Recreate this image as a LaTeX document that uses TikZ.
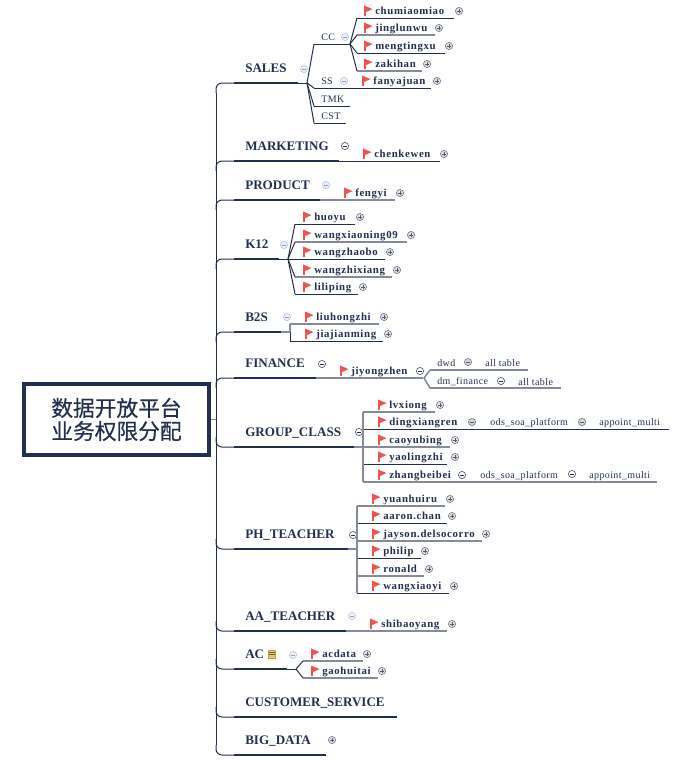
\documentclass[tikz,border=0pt]{standalone}
\usepackage{fontspec}
\setmainfont{Liberation Serif}
\newfontfamily\spacedserif[LetterSpace=6]{Liberation Serif}
\newfontfamily\smallserif[LetterSpace=4]{Liberation Serif}
\newfontfamily\cjkfont[FakeBold=0.5]{Noto Sans CJK SC}
\usepackage{tikz}
\usetikzlibrary{calc}
\definecolor{mapnavy}{HTML}{22304F}
\definecolor{mapgrey}{HTML}{858B98}
\definecolor{flagred}{HTML}{F0524F}
\definecolor{noteyellow}{HTML}{E6C765}
\definecolor{softblue}{HTML}{EDF2FA}
\definecolor{softline}{HTML}{B5C6E2}
\tikzset{
  darkline/.style={mapnavy, line width=0.75pt},
  greyline/.style={mapgrey, line width=1.2pt},
  topicline/.style={mapnavy, line width=2.1pt},
  trunkline/.style={mapnavy, line width=0.75pt, rounded corners=4.5pt},
  rootbox/.style={draw=mapnavy, line width=3pt, minimum width=138.8pt, minimum height=53.2pt, align=center, text=mapnavy, font=\cjkfont\fontsize{16.3}{17.3}\selectfont},
  topictext/.style={anchor=base west, inner sep=0pt, text=mapnavy, font=\bfseries\fontsize{9.8}{11}\selectfont},
  leaftext/.style={anchor=base west, inner sep=0pt, text=mapnavy, font=\spacedserif\bfseries\fontsize{8.1}{9}\selectfont},
  smalltext/.style={anchor=base west, inner sep=0pt, text=mapnavy, font=\smallserif\fontsize{7.5}{9}\selectfont},
  iconbase/.style={circle, line width=0.5pt, minimum size=5.4pt, inner sep=0pt},
  minussign/.style={path picture={\draw[#1, line width=0.55pt] ([xshift=1.2pt]path picture bounding box.west) -- ([xshift=-1.2pt]path picture bounding box.east);}},
  minuslight/.style={iconbase, draw=softline, fill=softblue, minussign=softline!80!black},
  minusdark/.style={iconbase, draw=mapnavy!80, fill=white, minussign=mapnavy},
  minusgrey/.style={iconbase, draw=mapgrey!90!black, fill=mapgrey!35, minussign=mapnavy!80},
  plusmark/.style={iconbase, draw=mapgrey!90!black, fill=mapgrey!25,
    path picture={\draw[mapnavy!80, line width=0.45pt]
      ([xshift=1.3pt]path picture bounding box.west) -- ([xshift=-1.3pt]path picture bounding box.east)
      ([yshift=1.3pt]path picture bounding box.south) -- ([yshift=-1.3pt]path picture bounding box.north);}},
  notemark/.style={draw=noteyellow!80!black, fill=noteyellow, line width=0.4pt, minimum width=5.2pt, minimum height=6.2pt, inner sep=0pt},
  redflag/.pic={
    \fill[flagred] (0,0) rectangle (2,10.5);
    \fill[flagred] (0,0) -- (8.5,3.6) -- (0,7.5) -- cycle;
  }
}
\begin{document}
\begin{tikzpicture}[x=0.75pt,y=-0.75pt]
  \useasboundingbox (0,0) rectangle (689,761);
  \node[rootbox] (root) at (116.5,419.5) {\raisebox{0.7pt}{数据开放平台}\\\raisebox{0.7pt}{业务权限分配}};
  \coordinate (trunktop) at (216,93);
  \coordinate (trunkbot) at (216,745);
  \draw[darkline] (trunktop) -- (trunkbot);
  \draw[greyline] (root.east) -- (root.east -| trunktop);
  % main topics
  \foreach \name/\xe/\yl/\txt in {
    sales/298/83/SALES, marketing/339/161/MARKETING, product/320/200/PRODUCT,
    ktwelve/279/259/K12, btwos/281/332/B2S, finance/316/378/FINANCE,
    groupclass/354/447/GROUP\_CLASS, phteacher/348/549/PH\_TEACHER,
    aateacher/346/631/AA\_TEACHER, ac/287/669/AC,
    customer/397/717/CUSTOMER\_SERVICE, bigdata/326/755/BIG\_DATA}{
    \pgfmathsetmacro{\ybend}{\yl<419 ? \yl+10 : \yl-10}
    \coordinate (\name-l) at (234,\yl);
    \coordinate (\name-r) at (\xe,\yl);
    \node[topictext] (\name) at (245,\yl-10.5) {\txt};
    \draw[trunkline] (\name-l) -- (216,\yl) -- (216,\ybend);
    \draw[topicline] (\name-l) -- (\name-r);
  }
  \foreach \name/\xi/\yi/\ico in {
    sales/304/69/minuslight, marketing/345/146/minusdark, product/326/185/minuslight,
    ktwelve/284/245/minuslight, btwos/287/317/minuslight, finance/322/364/minusdark,
    groupclass/359/432/minusdark, phteacher/353/535/minusdark,
    aateacher/352/616/minuslight, ac/293/655/minuslight, bigdata/332/740/plusmark}{
    \node[\ico] (\name-icon) at (\xi,\yi) {};
  }
  \node[notemark] (ac-note) at (272,654) {};
  \draw[noteyellow!50!black, line width=0.4pt] ($(ac-note.north west)+(1,2.5)$) -- ($(ac-note.north east)+(-1,2.5)$)
    ($(ac-note.north west)+(1,4.5)$) -- ($(ac-note.north east)+(-1,4.5)$);
  % second level without flag
  \foreach \name/\xt/\xs/\xe/\yl/\sty/\txt in {
    cc/321/314/350/44/darkline/CC, ss/321/314/360/88/darkline/SS,
    tmk/321/314/350/106/darkline/TMK, cst/321/314/346/123/darkline/CST,
    dwd/437/430/528/370/greyline/dwd, dmfinance/437/430/561/388/greyline/dm\_finance}{
    \coordinate (\name-l) at (\xs,\yl);
    \coordinate (\name-r) at (\xe,\yl);
    \node[smalltext] (\name) at (\xt,\yl-4) {\txt};
    \draw[\sty] (\name-l) -- (\name-r);
  }
  % people
  \foreach \name/\xt/\xs/\xe/\yl/\xi/\sty/\ico/\txt in {
    chumiaomiao/375/357/454/18/459/darkline/plusmark/chumiaomiao,
    jinglunwu/375/357/435/35/439/greyline/plusmark/jinglunwu,
    mengtingxu/375/357/445/53/449/darkline/plusmark/mengtingxu,
    zakihan/375/357/422/71/427/greyline/plusmark/zakihan,
    fanyajuan/373/360/431/88/437/darkline/plusmark/fanyajuan,
    chenkewen/374/339/440/161/444/darkline/plusmark/chenkewen,
    fengyi/355/320/395/200/400/greyline/plusmark/fengyi,
    huoyu/314/295/355/224/360/darkline/plusmark/huoyu,
    wangxiaoning/314/295/407/242/411/greyline/plusmark/wangxiaoning09,
    wangzhaobo/314/295/385/259/390/darkline/plusmark/wangzhaobo,
    wangzhixiang/314/295/392/277/397/greyline/plusmark/wangzhixiang,
    liliping/314/295/358/294/363/darkline/plusmark/liliping,
    liuhongzhi/316/290/379/324/384/greyline/plusmark/liuhongzhi,
    jiajianming/316/290/383/341/388/darkline/plusmark/jiajianming,
    jiyongzhen/351/316/423/378/420/greyline/minusdark/jiyongzhen,
    lvxiong/389/363/435/412/440/greyline/plusmark/lvxiong,
    dingxiangren/389/363/669/429/472/darkline/minusgrey/dingxiangren,
    caoyubing/389/363/450/447/455/greyline/plusmark/caoyubing,
    yaolingzhi/389/363/447/464/455/darkline/plusmark/yaolingzhi,
    zhangbeibei/389/363/657/482/462/greyline/minusdark/zhangbeibei,
    yuanhuiru/383/357/445/506/450/greyline/plusmark/yuanhuiru,
    aaronchan/383/357/447/523/452/darkline/plusmark/aaron.chan,
    jayson/383/357/482/541/486/greyline/plusmark/jayson.delsocorro,
    philip/383/357/421/558/425/darkline/plusmark/philip,
    ronald/383/357/424/576/429/greyline/plusmark/ronald,
    wangxiaoyi/383/357/449/593/454/darkline/plusmark/wangxiaoyi,
    shibaoyang/381/346/447/631/452/greyline/plusmark/shibaoyang,
    acdata/322/303/363/661/367/greyline/plusmark/acdata,
    gaohuitai/322/303/378/678/382/greyline/plusmark/gaohuitai}{
    \coordinate (\name-l) at (\xs,\yl);
    \coordinate (\name-r) at (\xe,\yl);
    \node[leaftext] (\name) at (\xt,\yl-4) {\txt};
    \pic at (\xt-11,\yl-12.5) {redflag};
    \node[\ico] (\name-icon) at (\xi,\yl-7) {};
    \draw[\sty] (\name-l) -- (\name-r);
  }
  % icons and text behind the people
  \foreach \name/\xi/\yi/\ico in {
    cc/345/37/minuslight, ss/344/81/minuslight, dwd/468/362/minusgrey, dmfinance/501/381/minusdark,
    dingods/582/422/minusgrey, zhangods/572/474/minusdark}{
    \node[\ico] (\name-icon) at (\xi,\yi) {};
  }
  \foreach \name/\xt/\yb/\txt in {
    dwdall/485/366/all table, dmall/518/385/all table,
    dingodstext/490/425/ods\_soa\_platform, dingmulti/599/425/appoint\_multi,
    zhangodstext/480/478/ods\_soa\_platform, zhangmulti/589/478/appoint\_multi}{
    \node[smalltext] (\name) at (\xt,\yb) {\txt};
  }
  % branches
  \coordinate (saleshub) at (307,83);
  \coordinate (ktwelvehub) at (288,259);
  \coordinate (btwoshub) at (290,332);
  \coordinate (financehub) at (424,378);
  \coordinate (grouphub) at (363,447);
  \coordinate (phhub) at (357,549);
  \coordinate (achub) at (296,669);
  \draw[darkline] (sales-r) -- (saleshub);
  \foreach \kid in {cc,ss,tmk,cst}{
    \draw[darkline] (saleshub) -- (\kid-l);
  }
  \foreach \kid in {chumiaomiao,jinglunwu,mengtingxu,zakihan}{
    \draw[darkline] (cc-r) -- (\kid-l);
  }
  \draw[darkline] (ss-r) -- (fanyajuan-l);
  \draw[darkline] (ktwelve-r) -- (ktwelvehub);
  \foreach \kid in {huoyu,wangxiaoning,wangzhaobo,wangzhixiang,liliping}{
    \draw[darkline] (ktwelvehub) -- (\kid-l);
  }
  \draw[greyline] (btwos-r) -- (btwoshub);
  \draw[greyline] (liuhongzhi-l) -- (btwoshub);
  \draw[darkline] (btwoshub) -- (jiajianming-l);
  \foreach \kid in {dwd,dmfinance}{
    \draw[greyline] (financehub) -- (\kid-l);
  }
  \draw[greyline] (groupclass-r) -- (grouphub);
  \draw[greyline] (lvxiong-l) -- (grouphub);
  \draw[greyline] (grouphub) -- (zhangbeibei-l);
  \draw[greyline] (phteacher-r) -- (phhub);
  \draw[greyline] (yuanhuiru-l) -- (phhub);
  \draw[greyline] (phhub) -- (wangxiaoyi-l);
  \draw[darkline] (ac-r) -- (achub);
  \foreach \kid in {acdata,gaohuitai}{
    \draw[darkline] (achub) -- (\kid-l);
  }
\end{tikzpicture}
\end{document}
